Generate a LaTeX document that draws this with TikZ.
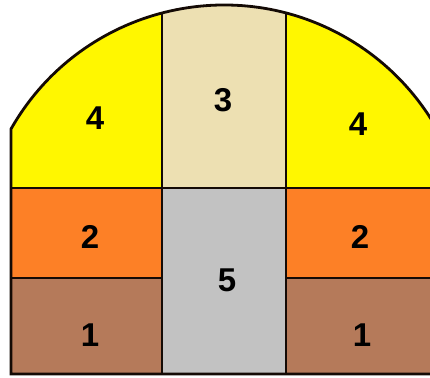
\documentclass[tikz,border=0pt]{standalone}
\usepackage{fontspec}
\setmainfont{Liberation Sans}
\definecolor{cyel}{RGB}{255,247,0}
\definecolor{cbeige}{RGB}{237,224,178}
\definecolor{cgray}{RGB}{194,194,194}
\definecolor{corange}{RGB}{253,128,38}
\definecolor{cbrown}{RGB}{181,122,90}
\definecolor{cline}{RGB}{20,10,5}
\tikzset{
  lbl/.style={font=\fontsize{33}{33}\selectfont\bfseries, text=black, inner sep=0pt},
  part/.style={line width=2.8pt, draw=cline}
}
\begin{document}
\begin{tikzpicture}[x=1pt,y=1pt]
\useasboundingbox (0,0) rectangle (430,377);
\clip (0,0) rectangle (430,377);
\coordinate (bl) at (11,3);
\coordinate (br) at (437,3);
\coordinate (al) at (11,248);
\begin{scope}
  \clip (bl) -- (al) arc[start angle=150.4, end angle=29.6, radius=245pt] -- (br) -- cycle;
  \fill[cyel] (11,189) rectangle (162,400);
  \fill[cbeige] (162,189) rectangle (286,400);
  \fill[cyel] (286,189) rectangle (437,400);
  \fill[corange] (11,99) rectangle (162,189);
  \fill[corange] (286,99) rectangle (437,189);
  \fill[cbrown] (11,3) rectangle (162,99);
  \fill[cbrown] (286,3) rectangle (437,99);
  \fill[cgray] (162,3) rectangle (286,189);
  \draw[part] (162,0) -- (162,400);
  \draw[part] (286,0) -- (286,400);
  \draw[part] (0,189) -- (440,189);
  \draw[part] (0,99) -- (162,99);
  \draw[part] (286,99) -- (440,99);
\end{scope}
\draw[part] (bl) -- (al) arc[start angle=150.4, end angle=29.6, radius=245pt] -- (br) -- cycle;
\node[lbl] (l4) at (95,259) {4};
\node[lbl] (l3) at (223,277) {3};
\node[lbl] (r4) at (358,253) {4};
\node[lbl] (l2) at (90,140) {2};
\node[lbl] (r2) at (360,140) {2};
\node[lbl] (c5) at (227,97) {5};
\node[lbl] (l1) at (90,42) {1};
\node[lbl] (r1) at (362,42) {1};
\end{tikzpicture}
\end{document}
